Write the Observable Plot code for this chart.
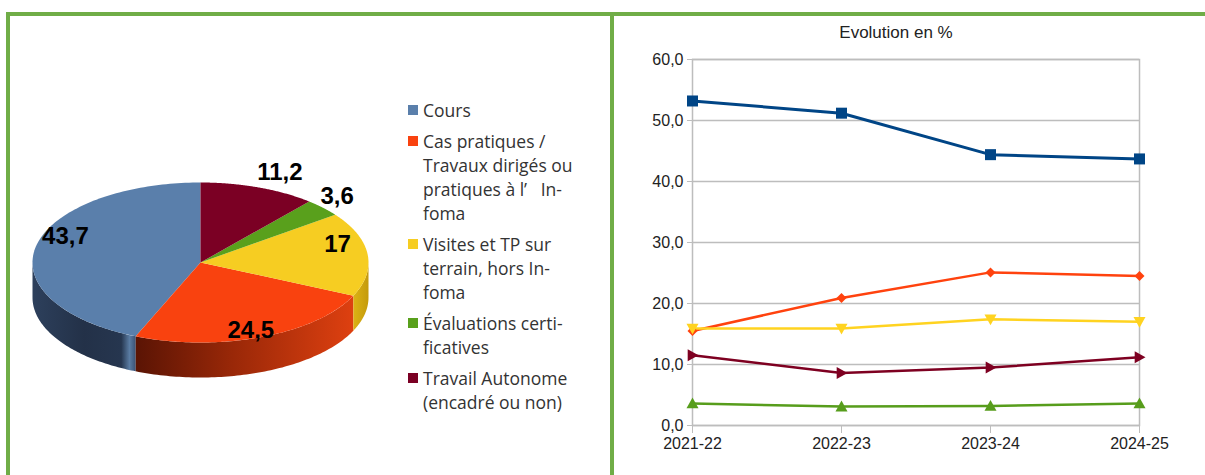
<!DOCTYPE html>
<html><head><meta charset="utf-8">
<script src="https://cdn.jsdelivr.net/npm/d3@7"></script>
<script src="https://cdn.jsdelivr.net/npm/@observablehq/plot@0.6"></script>
<style>
body{margin:0;background:#fff;width:1205px;height:475px;overflow:hidden;position:relative;font-family:"Liberation Sans",Arial,sans-serif}
.bar{position:absolute;background:#70ad47}
#pie{position:absolute;left:10px;top:16px}
#line{position:absolute;left:614px;top:16px}
#title{position:absolute;left:796px;width:200px;top:24px;text-align:center;font-size:17px;line-height:18px;color:#222}
#legend{position:absolute;left:408px;top:98px;font-family:"Open Sans",sans-serif;font-size:17.5px;color:#333;line-height:24px}
.item{display:flex;margin-bottom:7px}
.sw{width:10px;height:10px;margin-top:7px;margin-right:5px;flex:none}
.txt div{white-space:pre}
</style></head>
<body>
<div class="bar" style="left:6px;top:12px;width:1199px;height:4px"></div>
<div class="bar" style="left:6px;top:12px;width:4px;height:463px"></div>
<div class="bar" style="left:610px;top:12px;width:4px;height:463px"></div>
<div id="pie"></div>
<div id="legend"></div>
<div id="title">Evolution en %</div>
<div id="line"></div>
<script>
// ---- data ----
const categories = ["Cours", "Cas pratiques / Travaux dirigés ou pratiques à l’ Infoma", "Visites et TP sur terrain, hors Infoma", "Évaluations certificatives", "Travail Autonome (encadré ou non)"];
const legendLines = [
  ["Cours"],
  ["Cas pratiques /", "Travaux dirigés ou", "pratiques à l’   In-", "foma"],
  ["Visites et TP sur", "terrain, hors In-", "foma"],
  ["Évaluations certi-", "ficatives"],
  ["Travail Autonome", "(encadré ou non)"]
];
const pieValues = [43.7, 24.5, 17, 3.6, 11.2];
const years = ["2021-22", "2022-23", "2023-24", "2024-25"];
const cours = [53.2, 51.2, 44.4, 43.7];
const casPratiques = [15.5, 20.9, 25.1, 24.5];
const visites = [15.9, 15.9, 17.4, 17.0];
const evaluations = [3.6, 3.1, 3.2, 3.6];
const travail = [11.5, 8.6, 9.5, 11.2];
const yTicks = [0, 10, 20, 30, 40, 50, 60];
const chartTitle = "Evolution en %";

// ---- styles ----
const pieColors = ["#5a7fab", "#f9420f", "#f6cd22", "#59a01c", "#7b0024"];
const lineColors = ["#004586", "#ff420e", "#ffd320", "#579d1c", "#7e0021"];
const sideGradients = [
  [[0, "#2d405c"], [0.5, "#233148"], [0.86, "#26364f"], [0.94, "#5a7ca3"], [1, "#3a5275"]],
  [[0, "#5a1404"], [0.45, "#9a2808"], [1, "#de4010"]],
  [[0, "#dcb214"], [1, "#c49a0c"]],
  [[0, "#3f7a12"], [1, "#3f7a12"]],
  [[0, "#5a0018"], [1, "#5a0018"]]
];
const fmt = v => String(v).replace(".", ",");

// ---- pie ----
const total = d3.sum(pieValues);
let acc = 0;
const slices = pieValues.map((v, i) => {
  const a0 = acc / total * 2 * Math.PI; acc += v;
  const a1 = acc / total * 2 * Math.PI;
  return {i, v, a0, a1, mid: (a0 + a1) / 2};
});
const P = a => ({x: -Math.sin(a), y: Math.cos(a)});
const arcPts = (a0, a1, n) => d3.range(n + 1).map(k => P(a0 + (a1 - a0) * k / n));
const D = 35 / 80;
const pieMarks = [];
slices.forEach(s => {
  const st = Math.max(s.a0, Math.PI / 2), en = Math.min(s.a1, 3 * Math.PI / 2);
  if (st < en) {
    const top = arcPts(st, en, 80);
    const bot = arcPts(en, st, 80).map(p => ({x: p.x, y: p.y - D}));
    pieMarks.push(Plot.line(top.concat(bot), {x: "x", y: "y", fill: `url(#side${s.i})`, stroke: "none"}));
  }
});
slices.forEach(s => {
  const pts = [{x: 0, y: 0}, ...arcPts(s.a0, s.a1, 120)];
  pieMarks.push(Plot.line(pts, {x: "x", y: "y", fill: pieColors[s.i], stroke: "none"}));
});
// inside labels for large slices, outside (start-anchored) labels for small ones
const inside = [], outside = [];
slices.forEach(s => {
  const p = P(s.mid);
  if (s.v >= 15) inside.push({x: p.x * 0.82, y: p.y * 1.04 + 0.12, t: fmt(s.v)});
  else outside.push({x: p.x * 0.98, y: p.y * 1.2, t: fmt(s.v)});
});
const labelStyle = {x: "x", y: "y", text: "t", fontSize: 24, fontWeight: "bold", fill: "#000", fontFamily: "Liberation Sans, Arial, sans-serif"};
pieMarks.push(Plot.text(inside, {...labelStyle, textAnchor: "middle"}));
pieMarks.push(Plot.text(outside, {...labelStyle, textAnchor: "start"}));

const pie = Plot.plot({
  width: 390, height: 440, margin: 0,
  x: {domain: [-1, 1], range: [22, 358], axis: null},
  y: {domain: [-1, 1], range: [326, 166], axis: null},
  style: {background: "transparent", overflow: "visible"},
  marks: pieMarks
});
const defs = d3.select(pie).insert("defs", ":first-child");
sideGradients.forEach((g, i) => {
  const lg = defs.append("linearGradient").attr("id", "side" + i).attr("x1", 0).attr("x2", 1).attr("y1", 0).attr("y2", 0);
  g.forEach(([o, c]) => lg.append("stop").attr("offset", o).attr("stop-color", c));
});
document.getElementById("pie").append(pie);

// legend
const leg = d3.select("#legend");
categories.forEach((c, i) => {
  const it = leg.append("div").attr("class", "item");
  it.append("div").attr("class", "sw").style("background", pieColors[i]);
  const tx = it.append("div").attr("class", "txt");
  legendLines[i].forEach(l => tx.append("div").text(l));
});
document.getElementById("title").textContent = chartTitle;

// ---- line chart ----
const mk = f => ({draw(ctx, size) { const h = Math.sqrt(size / Math.PI); f(ctx, h); }});
const symSquare = mk((c, h) => { c.moveTo(-h, -h); c.lineTo(h, -h); c.lineTo(h, h); c.lineTo(-h, h); c.closePath(); });
const symDiamond = mk((c, h) => { c.moveTo(0, -h); c.lineTo(h, 0); c.lineTo(0, h); c.lineTo(-h, 0); c.closePath(); });
const symDown = mk((c, h) => { c.moveTo(0, h); c.lineTo(h, -0.8 * h); c.lineTo(-h, -0.8 * h); c.closePath(); });
const symUp = mk((c, h) => { c.moveTo(0, -h); c.lineTo(h, 0.8 * h); c.lineTo(-h, 0.8 * h); c.closePath(); });
const symRight = mk((c, h) => { c.moveTo(h, 0); c.lineTo(-0.8 * h, -h); c.lineTo(-0.8 * h, h); c.closePath(); });

const seriesValues = [cours, casPratiques, visites, evaluations, travail];
const seriesStyle = [
  {sym: symSquare, r: 5.5, w: 3},
  {sym: symDiamond, r: 5, w: 2.5},
  {sym: symDown, r: 6, w: 2.5},
  {sym: symUp, r: 6, w: 2.5},
  {sym: symRight, r: 6, w: 2.5}
];
const lineMarks = [
  Plot.gridY(yTicks, {stroke: "#bdbdbd", strokeOpacity: 1, strokeWidth: 1.5}),
  Plot.frame({stroke: "#bdbdbd", strokeWidth: 1.5}),
  Plot.axisY(yTicks, {tickSize: 5, tickPadding: 4, stroke: "#bdbdbd", fill: "#222", tickFormat: d => d.toFixed(1).replace(".", ","), label: null}),
  Plot.axisX({tickSize: 8, tickPadding: 4, stroke: "#bdbdbd", fill: "#222", label: null})
];
seriesValues.forEach((vals, i) => {
  const rows = years.map((y, j) => ({year: y, v: vals[j]}));
  lineMarks.push(Plot.line(rows, {x: "year", y: "v", stroke: lineColors[i], strokeWidth: seriesStyle[i].w}));
});
seriesValues.forEach((vals, i) => {
  const rows = years.map((y, j) => ({year: y, v: vals[j]}));
  lineMarks.push(Plot.dot(rows, {x: "year", y: "v", symbol: seriesStyle[i].sym, r: seriesStyle[i].r, fill: lineColors[i], stroke: "none"}));
});
const chart = Plot.plot({
  width: 591, height: 459,
  marginLeft: 78, marginRight: 66, marginTop: 43, marginBottom: 50,
  x: {type: "point", domain: years, padding: 0, label: null},
  y: {domain: [0, 60], label: null},
  style: {fontFamily: "Liberation Sans, Arial, sans-serif", fontSize: "16px", background: "transparent", overflow: "visible"},
  marks: lineMarks
});
document.getElementById("line").append(chart);
</script>
</body></html>
